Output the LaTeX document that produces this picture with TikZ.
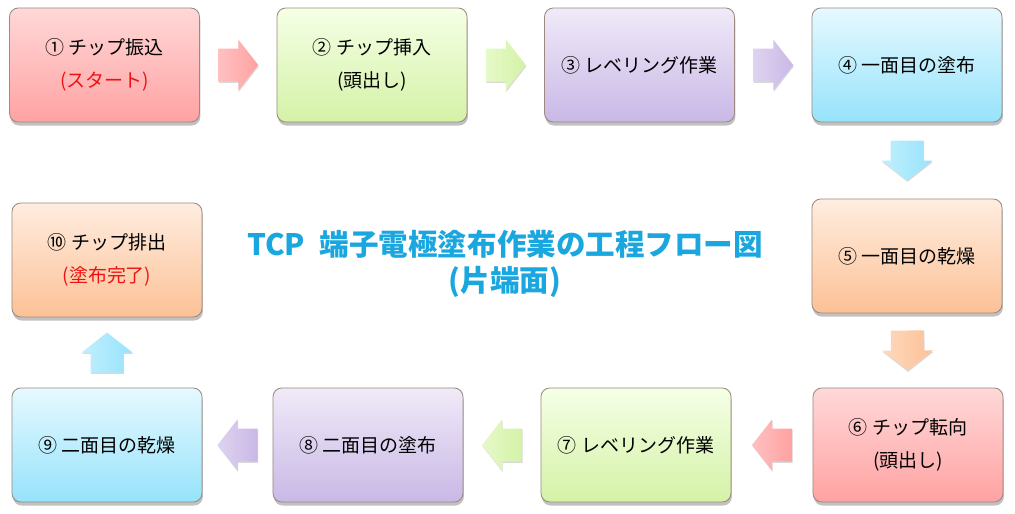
\documentclass[tikz,border=0pt]{standalone}
\usepackage{fontspec}
\setmainfont{Noto Sans CJK JP}
\usetikzlibrary{shadows,calc}
\definecolor{pinkT}{HTML}{FFD8D8}\definecolor{pinkB}{HTML}{FFA2A2}
\definecolor{greenT}{HTML}{F5FFE6}\definecolor{greenB}{HTML}{D4F2A6}
\definecolor{purpT}{HTML}{F0EAF8}\definecolor{purpB}{HTML}{C9B8E6}
\definecolor{cyanT}{HTML}{E6F9FF}\definecolor{cyanB}{HTML}{96E3FB}
\definecolor{oranT}{HTML}{FFEDE0}\definecolor{oranB}{HTML}{FCC196}
\definecolor{bordc}{HTML}{9A8A82}
\definecolor{titleblue}{HTML}{1AA6DE}
\definecolor{redtxt}{HTML}{EE1111}
\begin{document}
\begin{tikzpicture}[x=0.025cm,y=-0.025cm,
  box/.style={rectangle, rounded corners=0.22cm, draw=bordc, line width=0.6pt,
    minimum width=4.75cm, minimum height=2.85cm, align=center,
    font=\fontsize{13.5}{23.5}\selectfont,
    drop shadow={shadow xshift=0.6pt, shadow yshift=-2.5pt, opacity=0.35, fill=black!70}},
  pinkbox/.style={box, top color=pinkT, bottom color=pinkB},
  greenbox/.style={box, top color=greenT, bottom color=greenB},
  purpbox/.style={box, top color=purpT, bottom color=purpB},
  cyanbox/.style={box, top color=cyanT, bottom color=cyanB},
  oranbox/.style={box, top color=oranT, bottom color=oranB},
  barr/.pic={\path[pic actions, drop shadow={shadow xshift=0.4pt, shadow yshift=-1pt, opacity=0.15, fill=black}]
     (-20,-16.5) -- (0,-16.5) -- (0,-25.5) -- (20,0) -- (0,25.5) -- (0,16.5) -- (-20,16.5) -- cycle;},
  arr/.style 2 args={pos=0.5, sloped, allow upside down, left color=#1!55!#2, right color=#2}
]
\useasboundingbox (0,0) rectangle (1015,514);

\node[pinkbox]  (n1)  at (104.5,65) {① チップ振込\\\textcolor{redtxt}{(スタート)}};
\node[greenbox] (n2)  at (372,65)   {② チップ挿入\\(頭出し)};
\node[purpbox]  (n3)  at (639.5,65) {③ レベリング作業};
\node[cyanbox]  (n4)  at (907,65)   {④ 一面目の塗布};
\node[oranbox]  (n5)  at (907,256)  {⑤ 一面目の乾燥};
\node[pinkbox]  (n6)  at (908,445)  {⑥ チップ転向\\(頭出し)};
\node[greenbox] (n7)  at (636,445)  {⑦ レベリング作業};
\node[purpbox]  (n8)  at (368,445)  {⑧ 二面目の塗布};
\node[cyanbox]  (n9)  at (107,445)  {⑨ 二面目の乾燥};
\node[oranbox]  (n10) at (107,260)  {⑩ チップ排出\\\textcolor{redtxt}{(塗布完了)}};

\node[font=\bfseries\fontsize{21}{26}\selectfont, text=titleblue, align=center] (title) at (505,264)
  {TCP\hspace{0.5em}端子電極塗布作業の工程フロー図\\(片端面)};

\path (n1) -- (n2) pic[arr={pinkT}{pinkB}] {barr};
\path (n2) -- (n3) pic[arr={greenT}{greenB}] {barr};
\path (n3) -- (n4) pic[arr={purpT}{purpB}] {barr};
\path (n4) -- (n5) pic[arr={cyanT}{cyanB}] {barr};
\path (n5) -- (n6) pic[arr={oranT}{oranB}] {barr};
\path (n6) -- (n7) pic[arr={pinkT}{pinkB}] {barr};
\path (n7) -- (n8) pic[arr={greenT}{greenB}] {barr};
\path (n8) -- (n9) pic[arr={purpT}{purpB}] {barr};
\path (n9) -- (n10) pic[arr={cyanT}{cyanB}] {barr};
\end{tikzpicture}
\end{document}
